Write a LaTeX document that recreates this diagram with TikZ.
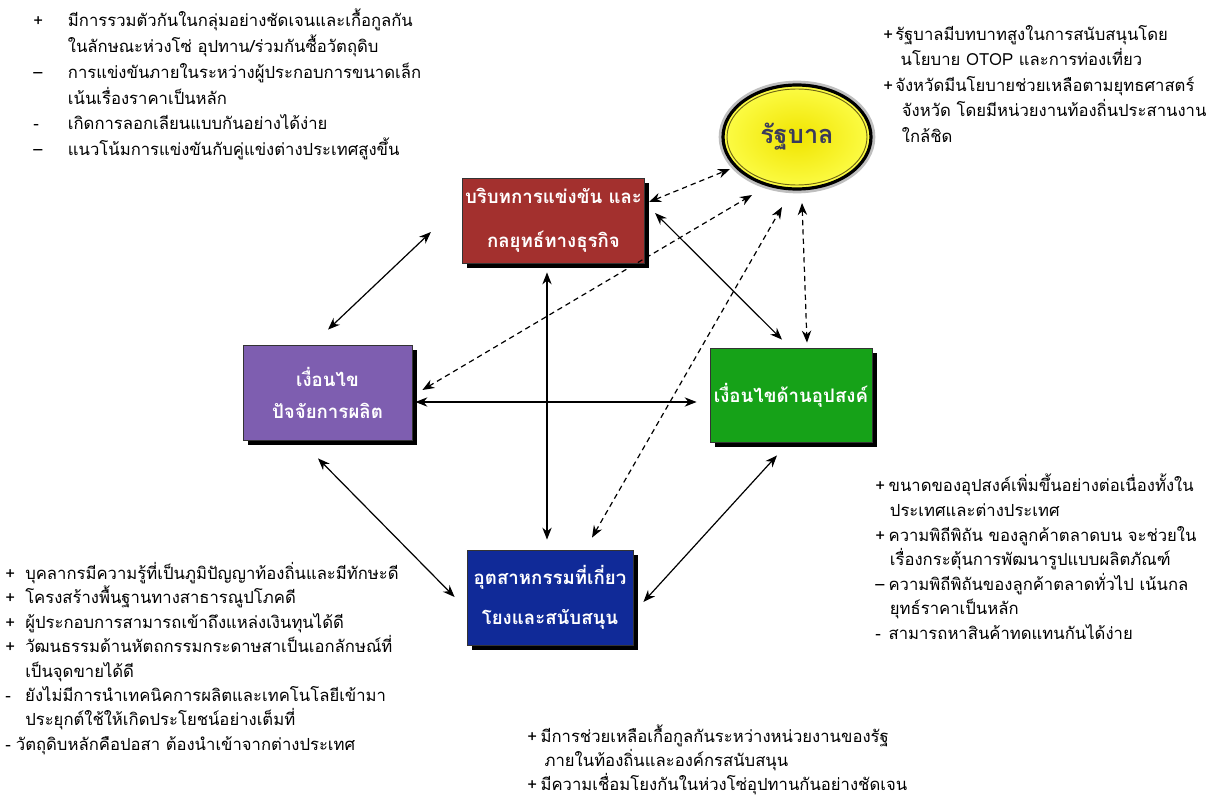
\documentclass[tikz,border=0pt]{standalone}
\usepackage{fontspec}
\newfontfamily\thaifont[Script=Thai]{Loma}
\usetikzlibrary{arrows.meta,shapes.geometric,shadows,calc}

\definecolor{boxred}{RGB}{163,48,46}
\definecolor{boxpurple}{RGB}{126,94,176}
\definecolor{boxgreen}{RGB}{22,162,24}
\definecolor{boxblue}{RGB}{16,42,152}
\definecolor{govinner}{RGB}{240,228,0}
\definecolor{govouter}{RGB}{252,252,70}
\definecolor{govring}{RGB}{110,100,20}
\definecolor{govtext}{RGB}{58,58,92}

\begin{document}
\begin{tikzpicture}[x=0.75pt,y=-0.75pt,
  factor/.style={rectangle, draw=black!80, line width=0.6pt, inner sep=2pt,
    text=white, align=center,
    drop shadow={shadow xshift=3.5pt, shadow yshift=-3.5pt, fill=black, opacity=1}},
  govnode/.style={ellipse, inner color=govinner, outer color=govouter,
    draw=black, line width=2.4pt,
    preaction={draw=black!25, line width=6.5pt},
    minimum width=111pt, minimum height=78pt, inner sep=0pt,
    text=govtext, font=\thaifont\bfseries\fontsize{19}{22}\selectfont},
  notes/.style={anchor=north west, inner sep=0pt, align=left},
  link/.style={{Stealth[length=9pt,width=7pt]}-{Stealth[length=9pt,width=7pt]}, line width=0.9pt},
  dlink/.style={link, dash pattern=on 4pt off 3pt}
]
\useasboundingbox (0,0) rectangle (1224,799);
\fill[white] (0,0) rectangle (1224,799);

% the four factor boxes and the government
\node[factor, fill=boxred, minimum width=131.25pt, minimum height=63.75pt,
  font=\thaifont\bfseries\fontsize{14}{33}\selectfont]
  (red) at (553.5,220.5) {บริบทการแข่งขัน และ\\กลยุทธ์ทางธุรกิจ};
\node[factor, fill=boxpurple, minimum width=126.75pt, minimum height=71.25pt,
  font=\thaifont\bfseries\fontsize{14}{24}\selectfont]
  (purple) at (327.5,392.5) {เงื่อนไข\\ปัจจัยการผลิต};
\node[factor, fill=boxgreen, minimum width=121.5pt, minimum height=70.5pt,
  font=\thaifont\bfseries\fontsize{14}{24}\selectfont]
  (green) at (791,395) {เงื่อนไขด้านอุปสงค์};
\node[factor, fill=boxblue, minimum width=124.5pt, minimum height=71.25pt,
  font=\thaifont\bfseries\fontsize{14}{30}\selectfont]
  (blue) at (550,597.5) {อุตสาหกรรมที่เกี่ยว\\โยงและสนับสนุน};
\node[govnode] (gov) at (797,137) {รัฐบาล};
\draw[govring, line width=0.7pt] (gov.center) ellipse [x radius=52.5pt, y radius=36pt];

% solid links between the factors
\draw[link] ($(red.west)+(-31,11.5)$) -- ($(purple.north)+(0.5,-15)$);
\draw[link] ($(red.east)+(10,-7.5)$) -- ($(green.north)+(-9,-8)$);
\draw[link] ($(red.south)+(-6.5,9)$) -- ($(blue.north)+(-3,-10)$);
\draw[link] ($(purple.east)+(3,9.5)$) -- ($(green.west)+(-13,7)$);
\draw[link] ($(purple.south)+(-9.5,18)$) -- ($(blue.west)+(-12,-0.5)$);
\draw[link] ($(green.south)+(-14,13)$) -- ($(blue.east)+(10,4.5)$);

% dashed links to the government
\draw[dlink] ($(red.east)+(4,-18.5)$) -- ($(gov.center)+(-67,32)$);
\draw[dlink] ($(purple.east)+(10,-2.5)$) -- ($(gov.center)+(-45,58)$);
\draw[dlink] ($(blue.north)+(42,-12)$) -- ($(gov.center)+(-15,70)$);
\draw[dlink] ($(gov.center)+(5,66)$) -- ($(green.north)+(16,-5)$);

% notes
\node[notes, font=\thaifont\fontsize{12.5}{19.3}\selectfont] (ntl) at (33,9) {%
\makebox[26pt][l]{+}มีการรวมตัวกันในกลุ่มอย่างชัดเจนและเกื้อกูลกัน\\
\hspace*{26pt}ในลักษณะห่วงโซ่ อุปทาน/ร่วมกันซื้อวัตถุดิบ\\
\makebox[26pt][l]{–}การแข่งขันภายในระหว่างผู้ประกอบการขนาดเล็ก\\
\hspace*{26pt}เน้นเรื่องราคาเป็นหลัก\\
\makebox[26pt][l]{-}เกิดการลอกเลียนแบบกันอย่างได้ง่าย\\
\makebox[26pt][l]{–}แนวโน้มการแข่งขันกับคู่แข่งต่างประเทศสูงขึ้น};

\node[notes, font=\thaifont\fontsize{12.5}{19.1}\selectfont] (ntr) at (883,25) {%
\makebox[9pt][l]{+}รัฐบาลมีบทบาทสูงในการสนับสนุนโดย\\
\hspace*{13pt}นโยบาย OTOP และการท่องเที่ยว\\
\makebox[9pt][l]{+}จังหวัดมีนโยบายช่วยเหลือตามยุทธศาสตร์\\
\hspace*{14pt}จังหวัด โดยมีหน่วยงานท้องถิ่นประสานงาน\\
\hspace*{14pt}ใกล้ชิด};

\node[notes, font=\thaifont\fontsize{12.5}{18.45}\selectfont] (nbr) at (875,474) {%
\makebox[10pt][l]{+}ขนาดของอุปสงค์เพิ่มขึ้นอย่างต่อเนื่องทั้งใน\\
\hspace*{11pt}ประเทศและต่างประเทศ\\
\makebox[10pt][l]{+}ความพิถีพิถัน ของลูกค้าตลาดบน จะช่วยใน\\
\hspace*{11pt}เรื่องกระตุ้นการพัฒนารูปแบบผลิตภัณฑ์\\
\makebox[10pt][l]{–}ความพิถีพิถันของลูกค้าตลาดทั่วไป เน้นกล\\
\hspace*{11pt}ยุทธ์ราคาเป็นหลัก\\
\makebox[10pt][l]{-}สามารถหาสินค้าทดแทนกันได้ง่าย};

\node[notes, font=\thaifont\fontsize{12.5}{18.3}\selectfont] (nbl) at (5,562) {%
\makebox[15pt][l]{+}บุคลากรมีความรู้ที่เป็นภูมิปัญญาท้องถิ่นและมีทักษะดี\\
\makebox[15pt][l]{+}โครงสร้างพื้นฐานทางสาธารณูปโภคดี\\
\makebox[15pt][l]{+}ผู้ประกอบการสามารถเข้าถึงแหล่งเงินทุนได้ดี\\
\makebox[15pt][l]{+}วัฒนธรรมด้านหัตถกรรมกระดาษสาเป็นเอกลักษณ์ที่\\
\hspace*{15pt}เป็นจุดขายได้ดี\\
\makebox[15pt][l]{-}ยังไม่มีการนำเทคนิคการผลิตและเทคโนโลยีเข้ามา\\
\hspace*{15pt}ประยุกต์ใช้ให้เกิดประโยชน์อย่างเต็มที่\\
\makebox[8pt][l]{-}วัตถุดิบหลักคือปอสา ต้องนำเข้าจากต่างประเทศ};

\node[notes, font=\thaifont\fontsize{12.5}{18}\selectfont] (nbc) at (527,725) {%
\makebox[10pt][l]{+}มีการช่วยเหลือเกื้อกูลกันระหว่างหน่วยงานของรัฐ\\
\hspace*{13pt}ภายในท้องถิ่นและองค์กรสนับสนุน\\
\makebox[10pt][l]{+}มีความเชื่อมโยงกันในห่วงโซ่อุปทานกันอย่างชัดเจน};
\end{tikzpicture}
\end{document}
